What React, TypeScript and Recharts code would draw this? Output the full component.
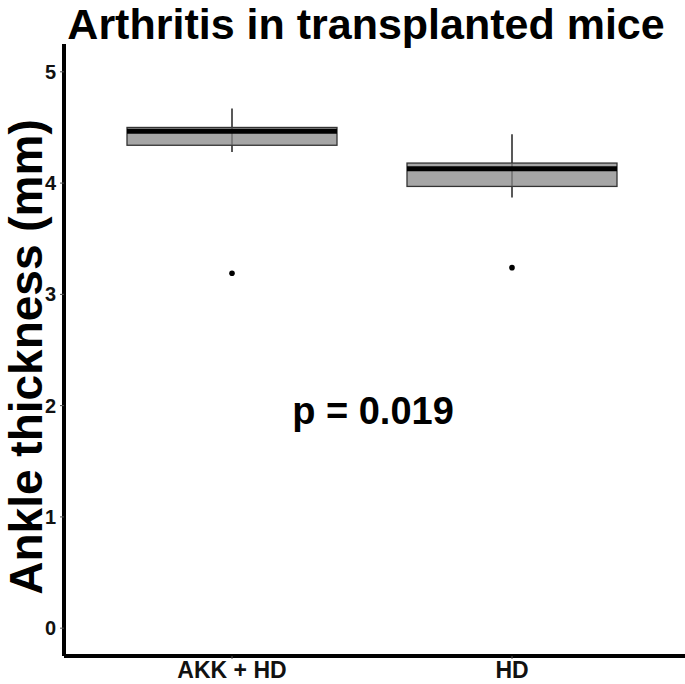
import { ComposedChart, Bar, Scatter, XAxis, YAxis } from 'recharts';

// values (mm)
const groups = ['AKK + HD', 'HD'];
const whiskerLow = [4.28, 3.87];
const q1 = [4.34, 3.97];
const median = [4.465, 4.13];
const q3 = [4.5, 4.18];
const whiskerHigh = [4.67, 4.44];
const outliers = [3.19, 3.24];
const yTicks = [0, 1, 2, 3, 4, 5];

const FONT = '"Liberation Sans", Arial, Helvetica, sans-serif';

const data = groups.map((g, i) => ({
    group: g,
    range: [whiskerLow[i], whiskerHigh[i]],
    low: whiskerLow[i],
    high: whiskerHigh[i],
    q1: q1[i],
    median: median[i],
    q3: q3[i],
    outlier: outliers[i],
}));

// bar spans whisker low..high; inner values mapped along it
const BoxShape = (props: any) => {
    const { x, y, width, height, payload } = props;
    if (x == null || y == null) return null;
    const top = Math.min(y, y + height);
    const h = Math.abs(height);
    const lo = payload.low;
    const hi = payload.high;
    const yOf = (v: number) => top + ((hi - v) / (hi - lo)) * h;
    const cx = x + width / 2;
    const yQ3 = yOf(payload.q3);
    const yQ1 = yOf(payload.q1);
    const yMed = yOf(payload.median);
    return (
        <g>
            <line x1={cx} x2={cx} y1={top} y2={top + h} stroke="#222" strokeWidth={1.5} />
            <rect x={x} y={yQ3} width={width} height={yQ1 - yQ3} fill="#A6A6A6" stroke="#333" strokeWidth={1.3} />
            <line x1={cx} x2={cx} y1={yQ3} y2={yQ1} stroke="#555" strokeWidth={1} />
            <line x1={x} x2={x + width} y1={yMed} y2={yMed} stroke="#000" strokeWidth={5} />
        </g>
    );
};

const OutlierDot = (props: any) => {
    const { cx, cy } = props;
    if (cx == null || cy == null) return null;
    return <circle cx={cx} cy={cy} r={2.8} fill="#000" />;
};

export default function App() {
    return (
        <div style={{ position: 'absolute', left: 0, top: 0, width: 685, height: 684, background: '#fff' }}>
            <ComposedChart
                width={685}
                height={684}
                data={data}
                margin={{ top: 44, right: 0, bottom: 0, left: 34 }}
            >
                <XAxis
                    dataKey="group"
                    height={28}
                    padding={{ left: 28, right: 33 }}
                    axisLine={{ stroke: '#000', strokeWidth: 4 }}
                    tickLine={{ stroke: '#555', strokeWidth: 1 }}
                    tickSize={3}
                    tickMargin={3}
                    tick={{ fill: '#111', fontSize: 23, fontWeight: 700, fontFamily: FONT }}
                />
                <YAxis
                    width={30}
                    domain={[-0.25, 5.25]}
                    ticks={yTicks}
                    allowDataOverflow
                    axisLine={{ stroke: '#000', strokeWidth: 4 }}
                    tickLine={{ stroke: '#555', strokeWidth: 1 }}
                    tickSize={4}
                    tickMargin={4}
                    tick={{ fill: '#111', fontSize: 20, fontWeight: 700, fontFamily: FONT }}
                />
                <Bar dataKey="range" barSize={210} shape={<BoxShape />} isAnimationActive={false} />
                <Scatter dataKey="outlier" shape={<OutlierDot />} isAnimationActive={false} />
            </ComposedChart>
            <svg
                width={685}
                height={684}
                style={{ position: 'absolute', left: 0, top: 0, pointerEvents: 'none' }}
            >
                <text x={366} y={39} textAnchor="middle" fontFamily={FONT} fontWeight={700} fontSize={43} fill="#000">
                    Arthritis in transplanted mice
                </text>
                <text x={-357} y={42} transform="rotate(-90)" textAnchor="middle" fontFamily={FONT} fontWeight={700} fontSize={46} fill="#000">
                    Ankle thickness (mm)
                </text>
                <text x={373} y={424} textAnchor="middle" fontFamily={FONT} fontWeight={700} fontSize={38} fill="#000">
                    p = 0.019
                </text>
            </svg>
        </div>
    );
}
